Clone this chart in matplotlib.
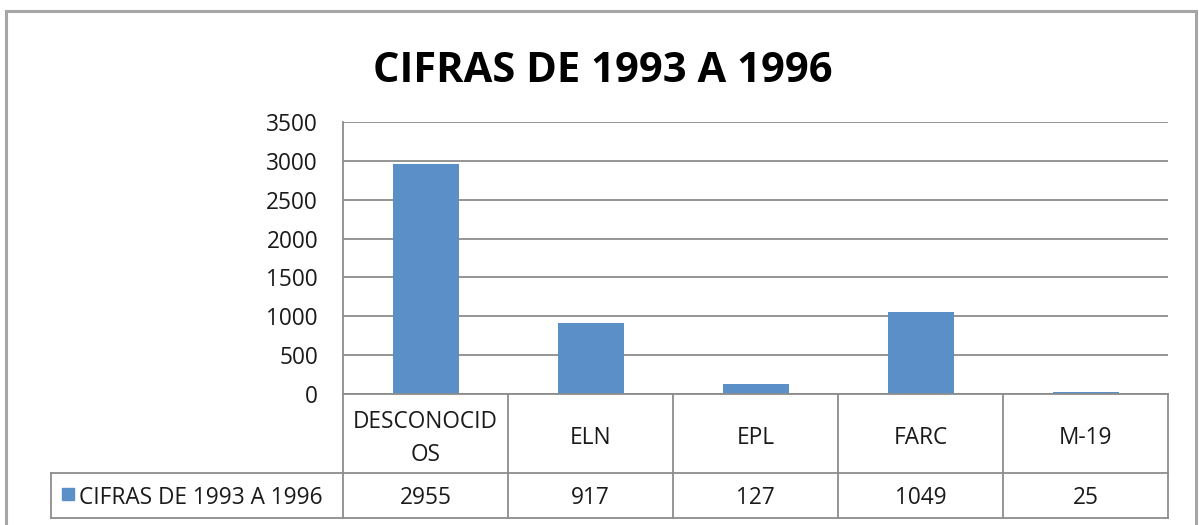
import matplotlib
matplotlib.use("Agg")
import matplotlib.pyplot as plt
from matplotlib.patches import Rectangle
from matplotlib.lines import Line2D

categories = ["DESCONOCID\nOS", "ELN", "EPL", "FARC", "M-19"]
values = [2955, 917, 127, 1049, 25]
series_name = "CIFRAS DE 1993 A 1996"
title = "CIFRAS DE 1993 A 1996"
yticks = [0, 500, 1000, 1500, 2000, 2500, 3000, 3500]

plt.rcParams['font.family'] = ['Open Sans', 'DejaVu Sans']

W, H = 1199, 525
fig = plt.figure(figsize=(W / 100, H / 100), dpi=100)
fig.patch.set_facecolor("white")

def fx(px):
    return px / W

def fy(py):
    return 1 - py / H

FS = 16.3
TXT = "#1a1a1a"

# outer chart border
fig.add_artist(Rectangle((fx(6), fy(530)), fx(1196) - fx(6), fy(11) - fy(530),
                         transform=fig.transFigure, fill=False,
                         edgecolor="#a6a6a6", linewidth=2.2))

bar_color = "#5a8fc8"
grid_color = "#8c8c8c"

left, right, top, bottom = 343, 1168, 122, 394
ax = fig.add_axes([fx(left), fy(bottom), fx(right) - fx(left), fy(top) - fy(bottom)])
x = list(range(len(categories)))
ax.bar(x, values, width=0.4, color=bar_color, zorder=3)
ax.set_xlim(-0.5, len(categories) - 0.5)
ax.set_ylim(0, 3500)
ax.set_yticks(yticks)
ax.set_yticklabels([str(v) for v in yticks], fontsize=FS, color=TXT)
ax.tick_params(axis="y", length=0, pad=18)
ax.set_xticks([])
ax.yaxis.grid(True, color=grid_color, linewidth=1.3, zorder=0)
for s in ["top", "right"]:
    ax.spines[s].set_visible(False)
ax.spines["left"].set_color(grid_color)
ax.spines["left"].set_linewidth(1.3)
ax.spines["bottom"].set_color(grid_color)
ax.spines["bottom"].set_linewidth(1.3)
ax.spines["bottom"].set_zorder(4)

# title
fig.text(fx(603), fy(71), title, ha="center", va="center",
         fontsize=30, fontweight="bold", color="#000000")

# data table
n = len(categories)
colw = (right - left) / n
row1_top, row1_bot, row2_bot = 394, 473, 518
leg_left = 51
lw = 1.3
for i in range(n + 1):
    xx = left + i * colw
    fig.add_artist(Line2D([fx(xx), fx(xx)], [fy(row1_top), fy(row2_bot)],
                          transform=fig.transFigure, color=grid_color, linewidth=lw))
fig.add_artist(Line2D([fx(leg_left), fx(right)], [fy(row1_bot), fy(row1_bot)],
                      transform=fig.transFigure, color=grid_color, linewidth=lw))
fig.add_artist(Line2D([fx(leg_left), fx(right)], [fy(row2_bot), fy(row2_bot)],
                      transform=fig.transFigure, color=grid_color, linewidth=lw))
fig.add_artist(Line2D([fx(leg_left), fx(leg_left)], [fy(row1_bot), fy(row2_bot)],
                      transform=fig.transFigure, color=grid_color, linewidth=lw))

for i, (c, v) in enumerate(zip(categories, values)):
    cx = left + (i + 0.5) * colw
    fig.text(fx(cx), fy((row1_top + row1_bot) / 2 + 5), c, ha="center", va="center",
             fontsize=FS, color=TXT, linespacing=1.45)
    fig.text(fx(cx), fy((row1_bot + row2_bot) / 2 + 3), str(v), ha="center", va="center",
             fontsize=FS, color=TXT)

# legend key in table
fig.add_artist(Rectangle((fx(62), fy(500)), fx(74) - fx(62), fy(488) - fy(500),
                         transform=fig.transFigure, color=bar_color))
fig.text(fx(79), fy((row1_bot + row2_bot) / 2 + 3), series_name, ha="left", va="center",
         fontsize=FS, color=TXT)

fig.savefig("out.png", dpi=100, facecolor="white")
